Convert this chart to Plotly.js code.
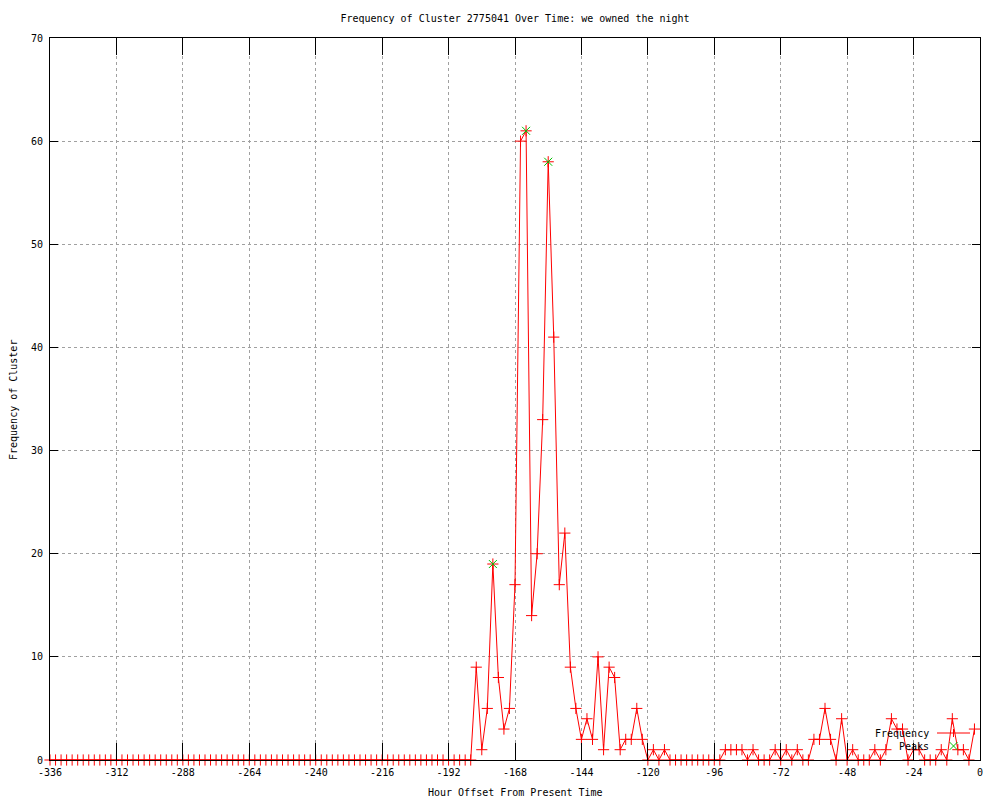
<!DOCTYPE html>
<html>
<head>
<meta charset="utf-8">
<script src="https://cdn.plot.ly/plotly-3.0.1.min.js"></script>
<style>html,body{margin:0;padding:0;background:#fff;}#chart{width:1000px;height:800px;}</style>
</head>
<body>
<div id="chart"></div>
<script>
// Hour offsets (every 2 hours)
var hours = [
-336,-334,-332,-330,-328,-326,-324,-322,-320,-318,-316,-314,-312,-310,-308,-306,-304,-302,-300,-298,
-296,-294,-292,-290,-288,-286,-284,-282,-280,-278,-276,-274,-272,-270,-268,-266,-264,-262,-260,-258,
-256,-254,-252,-250,-248,-246,-244,-242,-240,-238,-236,-234,-232,-230,-228,-226,-224,-222,-220,-218,
-216,-214,-212,-210,-208,-206,-204,-202,-200,-198,-196,-194,-192,-190,-188,-186,-184,
-182,-180,-178,-176,-174,-172,-170,-168,-166,-164,-162,-160,-158,-156,-154,-152,-150,-148,-146,-144,
-142,-140,-138,-136,-134,-132,-130,-128,-126,-124,-122,-120,-118,-116,-114,
-112,-110,-108,-106,-104,-102,-100,-98,-96,-94,
-92,-90,-88,-86,-84,-82,-80,-78,-76,-74,-72,-70,-68,-66,-64,-62,-60,-58,-56,-54,
-52,-50,-48,-46,-44,-42,-40,-38,-36,-34,-32,-30,-28,-26,-24,-22,-20,-18,-16,-14,
-12,-10,-8,-6,-4,-2
];
var frequency = [
0,0,0,0,0,0,0,0,0,0,0,0,0,0,0,0,0,0,0,0,
0,0,0,0,0,0,0,0,0,0,0,0,0,0,0,0,0,0,0,0,
0,0,0,0,0,0,0,0,0,0,0,0,0,0,0,0,0,0,0,0,
0,0,0,0,0,0,0,0,0,0,0,0,0,0,0,0,0,
9,1,5,19,8,3,5,17,60,61,14,20,33,58,41,17,22,9,5,2,
4,2,10,1,9,8,1,2,2,5,2,0,1,0,1,
0,0,0,0,0,0,0,0,0,0,
1,1,1,1,0,1,0,0,0,1,0,1,0,1,0,0,2,2,5,2,
0,4,0,1,0,0,0,1,0,1,4,3,3,0,1,1,0,0,0,1,
0,4,1,1,0,3
];
// Peaks
var peakHours = [-176, -164, -156];
var peakValues = [19, 61, 58];

// Axis ticks
var xTickVals = [-336,-312,-288,-264,-240,-216,-192,-168,-144,-120,-96,-72,-48,-24,0];
var xTickText = ["-336","-312","-288","-264","-240","-216","-192","-168","-144","-120","-96","-72","-48","-24","0"];
var yTickVals = [0,10,20,30,40,50,60,70];

var FONT = "DejaVu Sans Mono, monospace";

var traces = [
  {
    x: hours, y: frequency, type: 'scatter', mode: 'lines+markers', name: 'Frequency',
    line: {color: '#ff0000', width: 1},
    marker: {symbol: 'cross-thin', size: 8, color: '#ff0000', line: {color: '#ff0000', width: 1}},
    cliponaxis: false, showlegend: false
  },
  {
    x: peakHours, y: peakValues, type: 'scatter', mode: 'markers', name: 'Peaks',
    marker: {symbol: 'x-thin', size: 8, color: '#00c000', line: {color: '#00c000', width: 1}},
    cliponaxis: false, showlegend: false
  }
];

// pixel helpers for legend decorations (plot area 930 x 722)
function px(dx) { return dx / 930; }
function py(dy) { return dy / 722; }
var legX = px(953.5 - 50), legY1 = py(760 - 733), legY2 = py(760 - 746);

var layout = {
  width: 1000, height: 800,
  margin: {l: 50, r: 20, t: 38, b: 40},
  paper_bgcolor: '#ffffff', plot_bgcolor: '#ffffff',
  font: {family: FONT, size: 10, color: '#000000'},
  title: {text: 'Frequency of Cluster 2775041 Over Time: we owned the night',
          font: {family: FONT, size: 10, color: '#000000'},
          x: 0.5, xref: 'paper', y: 1 - 18/800, yanchor: 'middle'},
  xaxis: {
    range: [-336, 0], tickmode: 'array', tickvals: xTickVals, ticktext: xTickText,
    showline: true, linecolor: '#000000', linewidth: 1, mirror: 'ticks',
    ticks: 'inside', ticklen: 17, tickcolor: '#000000', tickwidth: 1,
    showgrid: true, gridcolor: '#a0a0a0', gridwidth: 1, griddash: '3px,3px',
    zeroline: false, ticklabelstandoff: 3,
    tickfont: {family: FONT, size: 10, color: '#000000'}
  },
  yaxis: {
    range: [0, 70], tickmode: 'array', tickvals: yTickVals,
    showline: true, linecolor: '#000000', linewidth: 1, mirror: 'ticks',
    ticks: 'inside', ticklen: 8, tickcolor: '#000000', tickwidth: 1,
    showgrid: true, gridcolor: '#a0a0a0', gridwidth: 1, griddash: '3px,3px',
    zeroline: false, ticklabelstandoff: 4,
    tickfont: {family: FONT, size: 10, color: '#000000'}
  },
  annotations: [
    {text: 'Hour Offset From Present Time', xref: 'paper', yref: 'paper',
     x: 0.5, y: py(760 - 793), xanchor: 'center', yanchor: 'middle', showarrow: false,
     font: {family: FONT, size: 10, color: '#000000'}},
    {text: 'Frequency of Cluster', xref: 'paper', yref: 'paper',
     x: px(13 - 50), y: py(760 - 400), xanchor: 'center', yanchor: 'middle', showarrow: false,
     textangle: -90, font: {family: FONT, size: 10, color: '#000000'}},
    {text: 'Frequency', xref: 'paper', yref: 'paper', x: px(931 - 50), y: legY1,
     xanchor: 'right', yanchor: 'middle', showarrow: false,
     font: {family: FONT, size: 10, color: '#000000'}},
    {text: 'Peaks', xref: 'paper', yref: 'paper', x: px(931 - 50), y: legY2,
     xanchor: 'right', yanchor: 'middle', showarrow: false,
     font: {family: FONT, size: 10, color: '#000000'}}
  ],
  shapes: [
    {type: 'line', xref: 'paper', yref: 'paper', x0: px(937 - 50), x1: px(970 - 50), y0: legY1, y1: legY1,
     line: {color: '#ff0000', width: 1}},
    {type: 'line', xref: 'paper', yref: 'paper', x0: legX, x1: legX, y0: legY1 - py(4), y1: legY1 + py(4),
     line: {color: '#ff0000', width: 1}},
    {type: 'line', xref: 'paper', yref: 'paper', x0: legX - px(4), x1: legX + px(4), y0: legY2 - py(4), y1: legY2 + py(4),
     line: {color: '#00c000', width: 1}},
    {type: 'line', xref: 'paper', yref: 'paper', x0: legX - px(4), x1: legX + px(4), y0: legY2 + py(4), y1: legY2 - py(4),
     line: {color: '#00c000', width: 1}}
  ],
  showlegend: false
};

Plotly.newPlot('chart', traces, layout, {displayModeBar: false, staticPlot: true});
</script>
</body>
</html>
